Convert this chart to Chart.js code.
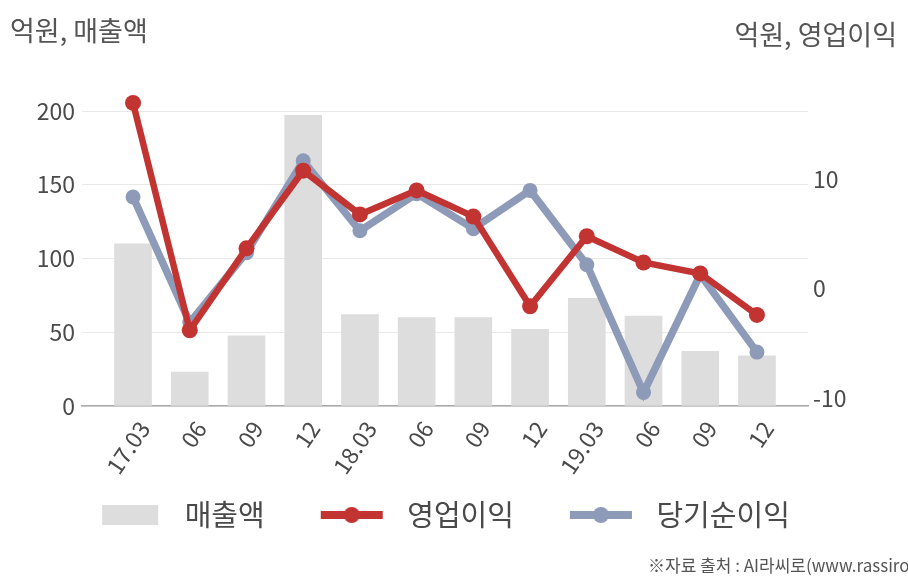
<!DOCTYPE html>
<html><head><meta charset="utf-8">
<script src="https://cdn.jsdelivr.net/npm/chart.js@4"></script>
<style>
html,body{margin:0;padding:0;background:#fff;overflow:hidden;width:908px;height:580px}
#wrap{position:relative;width:908px;height:580px;overflow:hidden}
canvas{position:absolute;left:0;top:0}
.t{position:absolute;font-family:"Noto Sans CJK KR","Noto Sans",sans-serif;color:#555;white-space:nowrap;line-height:1}
</style></head><body>
<div id="wrap">
<canvas id="c" width="908" height="580"></canvas>
<div class="t" style="left:10px;top:16px;font-size:27px">억원, 매출액</div>
<div class="t" style="right:11px;top:20px;font-size:27px">억원, 영업이익</div>
<div class="t" style="left:648px;top:556px;font-size:17px">※자료 출처 : AI라씨로(www.rassiro.com)</div>
</div>
<script>
const categories = ['17.03','06','09','12','18.03','06','09','12','19.03','06','09','12'];
const salesValues = [110, 23, 47.5, 197, 62, 60, 60, 52, 73, 61, 37, 34];
const opProfitValues = [17.0, -3.8, 3.7, 10.8, 6.8, 9.0, 6.6, -1.6, 4.8, 2.4, 1.4, -2.4];
const netProfitValues = [8.4, -3.1, 3.3, 11.7, 5.3, 8.7, 5.5, 9.0, 2.2, -9.5, 1.3, -5.8];
const leftTicks = [0, 50, 100, 150, 200];
const rightTicks = [-10, 0, 10];
const seriesNames = ['매출액', '영업이익', '당기순이익'];

const RED = '#c23432', BLUE = '#8e9bb8', GRAY = '#dddddd', TXT = '#4a4a4a';
const FONT = "'Noto Sans CJK KR','Noto Sans',sans-serif";
Chart.defaults.font.family = FONT;

const toXY = arr => arr.map((v, i) => ({x: i, y: v}));

function barSwatch() {
  const c = document.createElement('canvas'); c.width = 108; c.height = 24;
  const g = c.getContext('2d'); g.fillStyle = GRAY; g.fillRect(40, 2, 56, 20); return c;
}
function lineSwatch(color, lw, r) {
  const c = document.createElement('canvas'); c.width = 108; c.height = 24;
  const g = c.getContext('2d');
  g.strokeStyle = color; g.lineWidth = lw; g.beginPath(); g.moveTo(36, 12); g.lineTo(98, 12); g.stroke();
  g.fillStyle = color; g.beginPath(); g.arc(67, 12, r, 0, Math.PI * 2); g.fill(); return c;
}
const swatches = [barSwatch(), lineSwatch(RED, 8, 8), lineSwatch(BLUE, 8, 8)];

new Chart(document.getElementById('c'), {
  data: {
    datasets: [
      { type: 'line', label: seriesNames[1], data: toXY(opProfitValues), yAxisID: 'y1', order: 0,
        borderColor: RED, backgroundColor: RED, borderWidth: 6.5, pointRadius: 8, pointHoverRadius: 8,
        pointBackgroundColor: RED, pointBorderWidth: 0, tension: 0, clip: false },
      { type: 'line', label: seriesNames[2], data: toXY(netProfitValues), yAxisID: 'y1', order: 1,
        borderColor: BLUE, backgroundColor: BLUE, borderWidth: 7.5, pointRadius: 7.5, pointHoverRadius: 7.5,
        pointBackgroundColor: BLUE, pointBorderWidth: 0, tension: 0, clip: false },
      { type: 'bar', label: seriesNames[0], data: toXY(salesValues), yAxisID: 'y', order: 2,
        backgroundColor: GRAY, borderWidth: 0, barThickness: 37 }
    ]
  },
  options: {
    responsive: false, animation: false,
    layout: { padding: { top: 100, left: 0, right: 56, bottom: 40.5 } },
    plugins: {
      tooltip: { enabled: false },
      legend: {
        position: 'bottom',
        labels: {
          usePointStyle: true, pointStyleWidth: 108, padding: 20,
          font: { size: 29, family: FONT }, color: TXT,
          generateLabels: () => [0, 1, 2].map(i => ({
            text: seriesNames[i], pointStyle: swatches[i], fontColor: TXT,
            hidden: false, lineWidth: 0, strokeStyle: 'rgba(0,0,0,0)', fillStyle: 'rgba(0,0,0,0)',
            datasetIndex: [2, 0, 1][i]
          }))
        }
      }
    },
    scales: {
      x: {
        type: 'linear', min: -0.9, max: 11.9, offset: false,
        afterBuildTicks: s => { s.ticks = categories.map((_, i) => ({ value: i })); },
        afterFit: s => { s.height = 74.5; },
        ticks: { autoSkip: false, minRotation: 56, maxRotation: 56, padding: 10, labelOffset: 11,
                 font: { size: 23 }, color: TXT, callback: v => categories[v] },
        grid: { display: false, drawTicks: false, offset: false },
        border: { display: true, color: '#aaaaaa', width: 1.5 }
      },
      y: {
        position: 'left', min: 0, max: 207.46,
        afterBuildTicks: s => { s.ticks = leftTicks.map(v => ({ value: v })); },
        afterFit: s => { s.width = 82; },
        ticks: { padding: 7, font: { size: 23 }, color: TXT },
        grid: { color: '#e8e8e8', lineWidth: 1, drawTicks: false },
        border: { display: false }
      },
      y1: {
        position: 'right', min: -10.73, max: 17.27,
        afterBuildTicks: s => { s.ticks = rightTicks.map(v => ({ value: v })); },
        afterFit: s => { s.width = 44; },
        ticks: { padding: 5, font: { size: 23 }, color: TXT },
        grid: { display: false, drawTicks: false },
        border: { display: false }
      }
    }
  }
});
</script>
</body></html>
